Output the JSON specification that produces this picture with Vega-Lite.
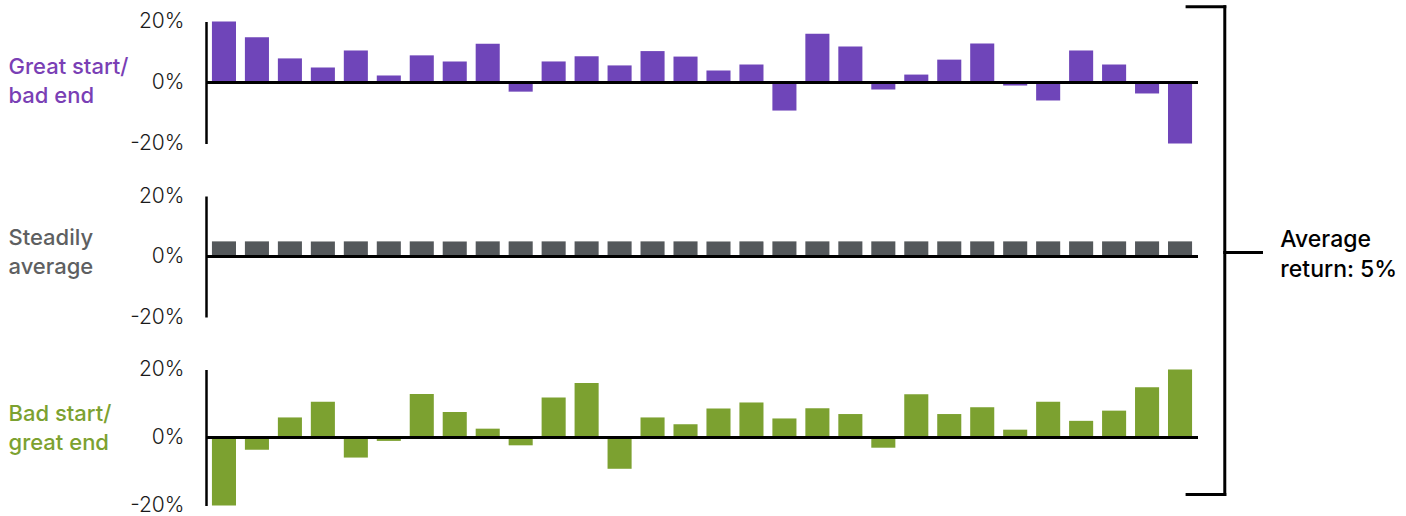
{
  "$schema": "https://vega.github.io/schema/vega-lite/v6.json",
  "padding": {"left": 8, "top": 4.5, "right": 0, "bottom": 0},
  "autosize": {"type": "pad"},
  "background": "white",
  "config": {
    "view": {"stroke": null},
    "font": "Inter",
    "axisY": {
      "domain": true, "domainColor": "#000000", "domainWidth": 2.5,
      "ticks": false, "grid": false,
      "labelFontSize": 21, "labelFontWeight": 300, "labelColor": "#1a1a1a", "labelPadding": 22,
      "labelBaseline": "middle",
      "titleAngle": 0, "titleAlign": "left", "titleBaseline": "middle", "titleX": -198,
      "titleFontSize": 22, "titleFontWeight": 500, "titleLineHeight": 29
    }
  },
  "datasets": {
    "great": [
      {"year": 1, "ret": 20}, {"year": 2, "ret": 14.8}, {"year": 3, "ret": 7.9}, {"year": 4, "ret": 4.9}, {"year": 5, "ret": 10.5},
      {"year": 6, "ret": 2.3}, {"year": 7, "ret": 8.9}, {"year": 8, "ret": 6.9}, {"year": 9, "ret": 12.7}, {"year": 10, "ret": -3},
      {"year": 11, "ret": 6.9}, {"year": 12, "ret": 8.6}, {"year": 13, "ret": 5.6}, {"year": 14, "ret": 10.3}, {"year": 15, "ret": 8.5},
      {"year": 16, "ret": 3.9}, {"year": 17, "ret": 5.9}, {"year": 18, "ret": -9.2}, {"year": 19, "ret": 16}, {"year": 20, "ret": 11.8},
      {"year": 21, "ret": -2.3}, {"year": 22, "ret": 2.6}, {"year": 23, "ret": 7.5}, {"year": 24, "ret": 12.8}, {"year": 25, "ret": -1},
      {"year": 26, "ret": -5.9}, {"year": 27, "ret": 10.5}, {"year": 28, "ret": 5.9}, {"year": 29, "ret": -3.6}, {"year": 30, "ret": -20}
    ],
    "steady": [
      {"year": 1, "ret": 5}, {"year": 2, "ret": 5}, {"year": 3, "ret": 5}, {"year": 4, "ret": 5}, {"year": 5, "ret": 5},
      {"year": 6, "ret": 5}, {"year": 7, "ret": 5}, {"year": 8, "ret": 5}, {"year": 9, "ret": 5}, {"year": 10, "ret": 5},
      {"year": 11, "ret": 5}, {"year": 12, "ret": 5}, {"year": 13, "ret": 5}, {"year": 14, "ret": 5}, {"year": 15, "ret": 5},
      {"year": 16, "ret": 5}, {"year": 17, "ret": 5}, {"year": 18, "ret": 5}, {"year": 19, "ret": 5}, {"year": 20, "ret": 5},
      {"year": 21, "ret": 5}, {"year": 22, "ret": 5}, {"year": 23, "ret": 5}, {"year": 24, "ret": 5}, {"year": 25, "ret": 5},
      {"year": 26, "ret": 5}, {"year": 27, "ret": 5}, {"year": 28, "ret": 5}, {"year": 29, "ret": 5}, {"year": 30, "ret": 5}
    ],
    "bad": [
      {"year": 1, "ret": -20}, {"year": 2, "ret": -3.6}, {"year": 3, "ret": 5.9}, {"year": 4, "ret": 10.5}, {"year": 5, "ret": -5.9},
      {"year": 6, "ret": -1}, {"year": 7, "ret": 12.8}, {"year": 8, "ret": 7.5}, {"year": 9, "ret": 2.6}, {"year": 10, "ret": -2.3},
      {"year": 11, "ret": 11.8}, {"year": 12, "ret": 16}, {"year": 13, "ret": -9.2}, {"year": 14, "ret": 5.9}, {"year": 15, "ret": 3.9},
      {"year": 16, "ret": 8.5}, {"year": 17, "ret": 10.3}, {"year": 18, "ret": 5.6}, {"year": 19, "ret": 8.6}, {"year": 20, "ret": 6.9},
      {"year": 21, "ret": -3}, {"year": 22, "ret": 12.7}, {"year": 23, "ret": 6.9}, {"year": 24, "ret": 8.9}, {"year": 25, "ret": 2.3},
      {"year": 26, "ret": 10.5}, {"year": 27, "ret": 4.9}, {"year": 28, "ret": 7.9}, {"year": 29, "ret": 14.8}, {"year": 30, "ret": 20}
    ],
    "bracket": [
      {"x": 98.9, "x2": 102.7, "y": 82.6, "y2": 82.6},
      {"x": 102.7, "x2": 102.7, "y": 82.6, "y2": -78.7},
      {"x": 98.9, "x2": 102.7, "y": -78.7, "y2": -78.7},
      {"x": 102.7, "x2": 106.4, "y": 1.3, "y2": 1.3}
    ],
    "note": [
      {"x": 108.3, "y": 5.3, "label": "Average\nreturn: 5%"}
    ]
  },
  "bounds": "flush",
  "spacing": 52.5,
  "vconcat": [
    {
      "width": 992, "height": 122,
      "data": {"name": "great"},
      "layer": [
        {
          "mark": {"type": "bar", "color": "#6F45B9"},
          "encoding": {
            "x": {"field": "year", "type": "ordinal", "axis": null, "scale": {"paddingInner": 0.27, "paddingOuter": 0.18}},
            "y": {"field": "ret", "type": "quantitative", "scale": {"domain": [-20, 20]},
                  "axis": {"values": [-20, 0, 20], "labelExpr": "datum.value + '%'", "title": ["Great start/", "bad end"], "titleColor": "#7A3FB5", "titleY": 45}}
          }
        },
        {
          "mark": {"type": "rule", "color": "#000000", "strokeWidth": 2.5},
          "encoding": {"y": {"datum": 0}}
        }
      ]
    },
    {
      "width": 992, "height": 121,
      "data": {"name": "steady"},
      "resolve": {"scale": {"x": "independent"}},
      "layer": [
        {
          "mark": {"type": "bar", "color": "#54585B"},
          "encoding": {
            "x": {"field": "year", "type": "ordinal", "axis": null, "scale": {"paddingInner": 0.27, "paddingOuter": 0.18}},
            "y": {"field": "ret", "type": "quantitative", "scale": {"domain": [-20, 20]},
                  "axis": {"values": [-20, 0, 20], "labelExpr": "datum.value + '%'", "title": ["Steadily", "average"], "titleColor": "#5E5F61", "titleY": 41.5}}
          }
        },
        {
          "mark": {"type": "rule", "color": "#000000", "strokeWidth": 2.5},
          "encoding": {"y": {"datum": 0}}
        },
        {
          "data": {"name": "bracket"},
          "mark": {"type": "rule", "color": "#000000", "strokeWidth": 3, "strokeCap": "square"},
          "encoding": {
            "x": {"field": "x", "type": "quantitative", "scale": {"domain": [0, 100]}, "axis": null},
            "x2": {"field": "x2"},
            "y": {"field": "y", "type": "quantitative", "scale": {"domain": [-20, 20]}},
            "y2": {"field": "y2"}
          }
        },
        {
          "data": {"name": "note"},
          "mark": {"type": "text", "align": "left", "baseline": "middle", "fontSize": 23, "fontWeight": 500, "lineHeight": 30, "lineBreak": "\n", "color": "#000000"},
          "encoding": {
            "x": {"field": "x", "type": "quantitative", "scale": {"domain": [0, 100]}, "axis": null},
            "y": {"field": "y", "type": "quantitative", "scale": {"domain": [-20, 20]}},
            "text": {"field": "label"}
          }
        }
      ]
    },
    {
      "width": 992, "height": 136,
      "data": {"name": "bad"},
      "layer": [
        {
          "mark": {"type": "bar", "color": "#7CA130"},
          "encoding": {
            "x": {"field": "year", "type": "ordinal", "axis": null, "scale": {"paddingInner": 0.27, "paddingOuter": 0.18}},
            "y": {"field": "ret", "type": "quantitative", "scale": {"domain": [-20, 20]},
                  "axis": {"values": [-20, 0, 20], "labelExpr": "datum.value + '%'", "title": ["Bad start/", "great end"], "titleColor": "#7CA130", "titleY": 44}}
          }
        },
        {
          "mark": {"type": "rule", "color": "#000000", "strokeWidth": 2.5},
          "encoding": {"y": {"datum": 0}}
        }
      ]
    }
  ]
}
